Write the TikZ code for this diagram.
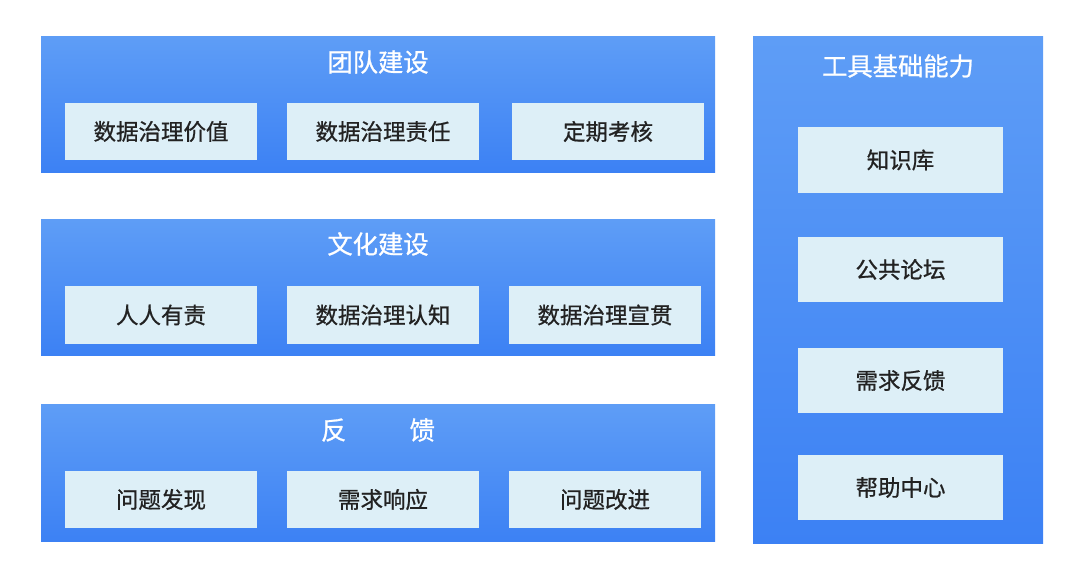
\documentclass[tikz,border=0pt]{standalone}
\usepackage{fontspec}
\setmainfont[FakeBold=0.8]{Noto Sans CJK SC}
\usetikzlibrary{positioning}
\definecolor{paneltop}{HTML}{5E9DF6}
\definecolor{panelbot}{HTML}{3C81F4}
\definecolor{itemfill}{HTML}{DDEFF7}
\definecolor{itemtext}{HTML}{222222}
\tikzset{
  panel/.style={top color=paneltop, bottom color=panelbot, draw=none},
  title/.style={text=white, font=\fontsize{18}{20}\selectfont},
  item/.style={fill=itemfill, text=itemtext, minimum width=4.8cm, minimum height=1.425cm,
    inner sep=0pt, font=\fontsize{16}{18}\selectfont},
  tool/.style={item, minimum width=5.125cm, minimum height=1.625cm}
}
\begin{document}
\begin{tikzpicture}[x=0.025cm, y=-0.025cm]
        \useasboundingbox (0,0) rectangle (1080,582);
        % left panels
        \shade[panel] (41,37) rectangle (715,173);
        \shade[panel] (41,220) rectangle (715,356);
        \shade[panel] (41,405) rectangle (715,542);
        % right panel
        \shade[panel] (753,37) rectangle (1043,544);
        \node[title] (team) at (378,62) {团队建设};
        \node[item] (value) at (161,131.5) {数据治理价值};
        \node[item] (duty) at (383,131.5) {数据治理责任};
        \node[item] (check) at (608,131.5) {定期考核};
        \node[title] (culture) at (378,244) {文化建设};
        \node[item] (everyone) at (161,315) {人人有责};
        \node[item] (aware) at (383,315) {数据治理认知};
        \node[item] (promo) at (605,315) {数据治理宣贯};
        \node[title] (feedback) at (378,430) {反\hspace{2.5em}馈};
        \node[item] (find) at (161,499.5) {问题发现};
        \node[item] (respond) at (383,499.5) {需求响应};
        \node[item] (improve) at (605,499.5) {问题改进};
        \node[title] (tools) at (898,66) {工具基础能力};
        \node[tool] (kb) at (900.5,160) {知识库};
        \node[tool] (forum) at (900.5,269.5) {公共论坛};
        \node[tool] (demand) at (900.5,380.5) {需求反馈};
        \node[tool] (help) at (900.5,487.5) {帮助中心};
      \end{tikzpicture}
\end{document}
